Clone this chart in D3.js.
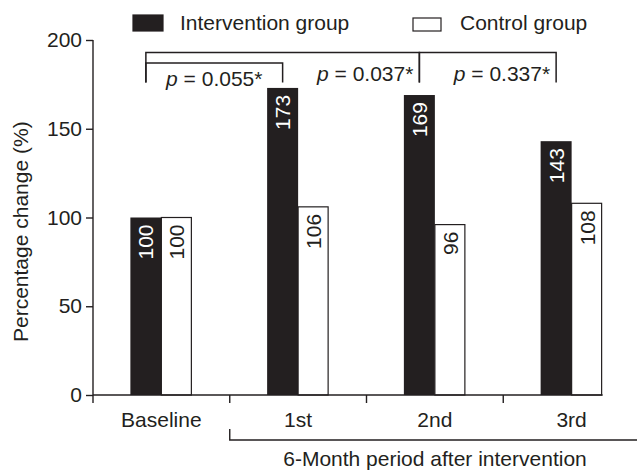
<!DOCTYPE html>
<html lang="en">
<head>
<meta charset="UTF-8">
<title>Percentage change</title>
<script src="https://d3js.org/d3.v7.min.js"></script>
<style>
  body { margin: 0; background: #fff; }
  text { font-family: "Liberation Sans", Arial, sans-serif; fill: #231f20; }
</style>
</head>
<body>
<svg width="637" height="471"></svg>
<script>
// data
const categories = ["Baseline", "1st", "2nd", "3rd"]
const intervention = [100, 173, 169, 143]
const control = [100, 106, 96, 108]
const yTicks = [0, 50, 100, 150, 200]
const seriesNames = ["Intervention group", "Control group"]
const pBrackets = [
  {from: "Baseline", to: "2nd", level: 193, p: "0.037*", anchor: "end"},
  {from: "Baseline", to: "1st", level: 187, p: "0.055*", anchor: "middle"},
  {from: "2nd", to: "3rd", level: 193, p: "0.337*", anchor: "end"}
]

const ink = "#231f20"
const fs = 21
const svg = d3.select("svg")

const x = d3.scaleBand().domain(categories).range([93, 640]).padding(0)
const y = d3.scaleLinear().domain([0, 200]).range([395, 40])
const barW = 31
const bw = x.bandwidth()
const blackX = c => x(c) + bw / 2 - barW   // left edge of intervention bar
const blackMid = c => blackX(c) + barW / 2

// y axis
const yAxis = svg.append("g").attr("transform", "translate(93,0)")
  .call(d3.axisLeft(y).tickValues(yTicks).tickSize(7).tickPadding(4))
yAxis.select(".domain").attr("d", `M0,${y(200)}V${y(0)}`).attr("stroke", ink).attr("stroke-width", 1.4)
yAxis.selectAll(".tick line").attr("stroke", ink).attr("stroke-width", 1.4)
yAxis.selectAll(".tick text").attr("font-size", fs).attr("font-family", "Liberation Sans, Arial, sans-serif").attr("fill", ink)

svg.append("text")
  .attr("transform", "translate(28," + y(92) + ") rotate(-90)")
  .attr("text-anchor", "middle")
  .attr("font-size", fs)
  .text("Percentage  change (%)")

// bars
const g = svg.append("g")
g.selectAll(".bi").data(categories).enter().append("rect")
  .attr("x", c => blackX(c))
  .attr("y", (c, i) => y(intervention[i]))
  .attr("width", barW)
  .attr("height", (c, i) => y(0) - y(intervention[i]))
  .attr("fill", ink)
g.selectAll(".bc").data(categories).enter().append("rect")
  .attr("x", c => blackX(c) + barW)
  .attr("y", (c, i) => y(control[i]))
  .attr("width", barW - 1)
  .attr("height", (c, i) => y(0) - y(control[i]))
  .attr("fill", "#fff").attr("stroke", ink).attr("stroke-width", 1.2)

// value labels, rotated inside bar tops
g.selectAll(".li").data(categories).enter().append("text")
  .attr("transform", (c, i) => `translate(${blackMid(c) + 7.5},${y(intervention[i]) + 7}) rotate(-90)`)
  .attr("text-anchor", "end").attr("font-size", fs)
  .style("fill", "#fff")
  .text((c, i) => intervention[i])
g.selectAll(".lc").data(categories).enter().append("text")
  .attr("transform", (c, i) => `translate(${blackMid(c) + barW + 7.5},${y(control[i]) + 7}) rotate(-90)`)
  .attr("text-anchor", "end").attr("font-size", fs)
  .text((c, i) => control[i])

// x axis
svg.append("line").attr("x1", 93).attr("x2", blackX("3rd") + 2 * barW).attr("y1", y(0)).attr("y2", y(0))
  .attr("stroke", ink).attr("stroke-width", 1.4)
svg.selectAll(".xt").data(categories).enter().append("line")
  .attr("x1", c => x(c)).attr("x2", c => x(c))
  .attr("y1", y(0)).attr("y2", y(0) + 8)
  .attr("stroke", ink).attr("stroke-width", 1.4)
svg.selectAll(".xl").data(categories).enter().append("text")
  .attr("x", c => x(c) + bw / 2).attr("y", 427)
  .attr("text-anchor", "middle").attr("font-size", fs)
  .text(c => c)

// bracket under the follow-up periods
svg.append("path")
  .attr("d", `M${x("1st")},429V440H637`)
  .attr("fill", "none").attr("stroke", ink).attr("stroke-width", 1.4)
svg.append("text").attr("x", 435).attr("y", 466).attr("text-anchor", "middle")
  .attr("font-size", fs).text("6-Month period after intervention")

// significance brackets
pBrackets.forEach(b => {
  const x1 = blackMid(b.from), x2 = blackMid(b.to)
  svg.append("path")
    .attr("d", `M${x1},${y(176)}V${y(b.level)}H${x2}V${y(176)}`)
    .attr("fill", "none").attr("stroke", ink).attr("stroke-width", 1.5)
  const t = svg.append("text")
    .attr("x", b.anchor === "end" ? x2 - 6 : (x1 + x2) / 2)
    .attr("y", b.anchor === "end" ? 81 : 86).attr("text-anchor", b.anchor).attr("font-size", fs)
  t.append("tspan").attr("font-style", "italic").text("p")
  t.append("tspan").text(" = " + b.p)
})

// legend
const legend = [
  {name: seriesNames[0], x: 133, fill: ink},
  {name: seriesNames[1], x: 413, fill: "#fff"}
]
legend.forEach((d, i) => {
  svg.append("rect").attr("x", d.x).attr("y", i ? 18 : 15)
    .attr("width", i ? 28 : 30).attr("height", i ? 13 : 16)
    .attr("fill", d.fill).attr("stroke", ink).attr("stroke-width", 1.2)
  svg.append("text").attr("x", d.x + 47).attr("y", 30).attr("font-size", fs).text(d.name)
})
</script>
</body>
</html>
